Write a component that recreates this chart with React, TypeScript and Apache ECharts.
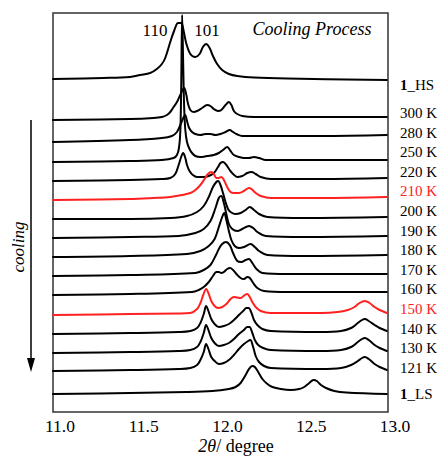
import React, { useEffect, useRef } from "react";
import * as echarts from "echarts";

// ---- data (2θ in degrees, relative intensity above each trace's own baseline) ----
const traceLabels = ["1_HS", "300 K", "280 K", "250 K", "220 K", "210 K", "200 K", "190 K", "180 K", "170 K", "160 K", "150 K", "140 K", "130 K", "121 K", "1_LS"];
const offsets = [333, 292, 270, 250, 231, 212, 193, 174, 155, 136, 117, 97, 78, 59, 41, 18];
const redTraces = ["210 K", "150 K"];
const xTickMin = 11.0;
const xTickMax = 13.0;
const xTickStep = 0.5;

const hs = [[11.0, 0], [11.3, 1], [11.46, 2], [11.52, 4], [11.58, 6], [11.62, 10], [11.65, 15], [11.67, 21], [11.7, 37], [11.725, 49], [11.747, 56], [11.765, 56], [11.78, 48], [11.795, 36], [11.82, 25], [11.85, 22], [11.875, 25], [11.895, 32], [11.914, 35], [11.935, 31], [11.955, 23], [11.98, 15], [12.01, 9], [12.05, 5], [12.1, 3], [12.2, 1.5], [12.4, 0.5], [12.993, -1]];
const k300 = [[11.0, 0], [11.46, 1], [11.6, 2], [11.65, 3], [11.68, 5], [11.7, 8], [11.72, 13], [11.74, 18], [11.76, 25], [11.783, 32], [11.795, 26], [11.805, 17], [11.82, 10], [11.84, 8], [11.86, 9], [11.89, 12], [11.92, 15], [11.94, 14], [11.96, 11], [11.985, 9], [12.005, 10], [12.03, 15], [12.05, 18], [12.065, 15], [12.08, 9], [12.1, 6], [12.13, 4], [12.2, 3], [12.5, 3], [12.993, 3]];
const k280 = [[11.0, 0], [11.46, 2], [11.65, 4], [11.71, 6], [11.74, 10], [11.76, 17], [11.775, 23], [11.789, 27], [11.8, 21], [11.813, 14], [11.83, 10], [11.85, 8], [11.88, 7], [11.91, 8], [11.94, 8], [11.97, 7], [12.0, 8], [12.03, 10], [12.055, 12], [12.075, 10], [12.095, 8], [12.13, 6], [12.2, 6], [12.6, 6], [12.993, 7]];
const k250 = [[11.0, 0], [11.46, 1], [11.65, 2], [11.72, 4], [11.74, 7], [11.752, 14], [11.76, 30], [11.765, 70], [11.771, 147], [11.777, 100], [11.783, 55], [11.79, 32], [11.8, 20], [11.815, 13], [11.83, 9], [11.85, 6], [11.88, 5], [11.92, 6], [11.96, 7], [11.99, 9], [12.015, 12], [12.04, 15], [12.06, 11], [12.08, 7], [12.11, 5], [12.14, 4], [12.17, 4], [12.2, 5], [12.23, 4], [12.27, 2], [12.5, 2], [12.993, 2]];
const k220 = [[11.0, 0], [11.46, 1], [11.65, 2], [11.7, 3], [11.73, 7], [11.75, 16], [11.765, 24], [11.777, 28], [11.79, 23], [11.8, 16], [11.815, 10], [11.835, 6], [11.86, 4], [11.9, 4], [11.93, 5], [11.96, 8], [11.985, 14], [12.0, 18], [12.016, 19], [12.035, 16], [12.055, 11], [12.075, 7], [12.1, 4], [12.13, 5], [12.16, 8], [12.185, 9], [12.21, 7], [12.24, 4], [12.3, 2], [12.6, 2], [12.993, 3]];
const k210 = [[11.0, 0], [11.46, 1], [11.6, 2], [11.7, 3], [11.77, 5], [11.82, 7], [11.85, 10], [11.88, 15], [11.905, 21], [11.925, 26], [11.945, 28], [11.96, 26], [11.975, 22], [11.99, 22], [12.005, 23], [12.02, 20], [12.04, 13], [12.06, 8], [12.08, 7], [12.11, 7], [12.14, 9], [12.17, 12], [12.185, 11], [12.21, 7], [12.24, 4], [12.3, 2], [12.6, 2], [12.993, 3]];
const k200 = [[11.0, 0], [11.46, 0], [11.7, 1], [11.8, 3], [11.86, 7], [11.9, 13], [11.93, 22], [11.955, 32], [11.975, 37], [11.986, 38], [12.0, 34], [12.015, 26], [12.03, 17], [12.045, 10], [12.06, 7], [12.09, 5], [12.12, 6], [12.15, 9], [12.175, 12], [12.2, 9], [12.23, 5], [12.28, 2], [12.5, 1], [12.993, 2]];
const k190 = [[11.0, 0], [11.46, 1], [11.75, 2], [11.85, 5], [11.9, 9], [11.94, 17], [11.97, 30], [11.99, 40], [12.004, 42], [12.02, 35], [12.035, 24], [12.05, 14], [12.07, 9], [12.1, 7], [12.13, 9], [12.17, 12], [12.195, 10], [12.22, 6], [12.27, 2], [12.5, 1], [12.993, 2]];
const k180 = [[11.0, 0], [11.46, 1], [11.8, 3], [11.88, 6], [11.93, 11], [11.965, 18], [11.99, 30], [12.01, 40], [12.022, 44], [12.035, 37], [12.05, 26], [12.065, 17], [12.085, 11], [12.11, 9], [12.14, 10], [12.18, 13], [12.205, 10], [12.23, 6], [12.28, 2], [12.5, 1], [12.993, 2]];
const k170 = [[11.0, 0], [11.46, 1], [11.85, 3], [11.9, 6], [11.94, 11], [11.97, 20], [11.99, 27], [12.01, 32], [12.033, 34], [12.055, 31], [12.075, 23], [12.1, 15], [12.125, 14], [12.15, 16], [12.17, 17], [12.19, 13], [12.215, 7], [12.25, 3], [12.4, 2], [12.993, 2]];
const k160 = [[11.0, 0], [11.46, 1], [11.83, 3], [11.87, 5], [11.9, 8], [11.93, 13], [11.955, 19], [11.975, 23], [11.99, 23], [12.005, 22], [12.02, 23], [12.04, 26], [12.057, 27], [12.075, 25], [12.095, 21], [12.12, 17], [12.14, 16], [12.16, 18], [12.175, 17], [12.195, 12], [12.22, 7], [12.26, 4], [12.4, 3], [12.993, 3]];
const k150 = [[11.0, 0], [11.46, 1], [11.75, 1.5], [11.82, 2], [11.86, 6], [11.88, 12], [11.897, 20], [11.914, 26], [11.93, 21], [11.945, 14], [11.965, 9], [11.985, 7], [12.01, 8], [12.035, 11], [12.06, 16], [12.08, 18], [12.1, 17.5], [12.12, 17], [12.145, 20], [12.16, 21], [12.175, 18], [12.19, 13], [12.21, 8], [12.24, 4], [12.3, 2], [12.6, 2], [12.7, 3], [12.76, 5], [12.8, 8], [12.83, 12], [12.862, 14], [12.89, 12], [12.92, 8], [12.95, 5], [12.993, 2]];
const k140 = [[11.0, 0], [11.46, 1], [11.75, 2], [11.82, 3], [11.86, 6], [11.88, 11], [11.9, 20], [11.914, 28], [11.928, 23], [11.945, 15], [11.965, 10], [11.99, 7], [12.02, 8], [12.05, 10], [12.08, 14], [12.11, 19], [12.135, 23], [12.155, 26], [12.168, 26], [12.185, 21], [12.2, 14], [12.22, 9], [12.25, 5], [12.3, 3], [12.6, 2], [12.72, 3], [12.78, 6], [12.82, 11], [12.845, 14], [12.862, 15], [12.885, 13], [12.92, 9], [12.95, 6], [12.993, 3]];
const k130 = [[11.0, 0], [11.46, 1], [11.75, 2], [11.82, 3], [11.86, 6], [11.88, 11], [11.9, 20], [11.914, 28], [11.928, 23], [11.945, 15], [11.965, 10], [11.99, 7], [12.02, 8], [12.05, 10], [12.08, 14], [12.11, 19], [12.14, 23], [12.16, 26], [12.173, 26], [12.19, 20], [12.205, 13], [12.225, 8], [12.255, 5], [12.3, 3], [12.6, 2], [12.72, 3], [12.78, 6], [12.82, 11], [12.845, 14], [12.862, 15], [12.885, 13], [12.92, 8], [12.95, 5], [12.993, 2]];
const k121 = [[11.0, 0], [11.46, 1], [11.75, 2], [11.82, 3], [11.86, 6], [11.88, 11], [11.9, 19], [11.914, 27], [11.928, 22], [11.945, 14], [11.965, 10], [11.99, 7], [12.02, 8], [12.05, 11], [12.08, 16], [12.11, 22], [12.14, 27], [12.165, 30], [12.178, 31], [12.195, 24], [12.21, 15], [12.23, 9], [12.26, 5], [12.3, 3], [12.6, 2], [12.72, 3], [12.78, 6], [12.82, 10], [12.845, 13], [12.862, 14], [12.885, 12], [12.92, 7], [12.95, 4], [12.993, 1]];
const ls = [[11.0, 0], [11.46, 1], [11.8, 2], [11.95, 3], [12.05, 5], [12.09, 7], [12.12, 11], [12.15, 19], [12.17, 25], [12.19, 28], [12.205, 27], [12.225, 22], [12.25, 15], [12.28, 10], [12.31, 7], [12.36, 5], [12.42, 4], [12.47, 5], [12.5, 7], [12.53, 11], [12.555, 14], [12.575, 13], [12.6, 9], [12.63, 6], [12.68, 3], [12.75, 1.5], [12.993, 0]];

const profiles = [hs, k300, k280, k250, k220, k210, k200, k190, k180, k170, k160, k150, k140, k130, k121, ls];

const FONT = "'Liberation Serif', 'Times New Roman', serif";

function buildOption() {
  const series = profiles.map((p, i) => {
    const red = redTraces.includes(traceLabels[i]);
    return {
      type: "line",
      name: traceLabels[i],
      data: p.map(([x, y]) => [x, y + offsets[i]]),
      showSymbol: false,
      smooth: 0.35,
      lineStyle: { width: 2, color: red ? "#ff2020" : "#000", join: "round", cap: "round" },
      z: 2,
    };
  });

  const labelTexts: any[] = [];
  const kLabels = traceLabels.slice(1, traceLabels.length - 1);
  kLabels.forEach((t, i) => {
    labelTexts.push({
      type: "text",
      x: 400,
      y: 113 + i * 19.6,
      style: {
        text: t,
        fill: redTraces.includes(t) ? "#ff2020" : "#000",
        fontFamily: FONT,
        fontSize: 15,
        textAlign: "left",
        textVerticalAlign: "middle",
      },
    });
  });
  const boldLabel = (t: string, y: number) => ({
    type: "text",
    x: 400,
    y,
    style: {
      text: "{b|" + t.split("_")[0] + "}{n|_" + t.split("_")[1] + "}",
      rich: {
        b: { fontWeight: "bold", fontFamily: FONT, fontSize: 15, fill: "#000" },
        n: { fontFamily: FONT, fontSize: 15, fill: "#000" },
      },
      textAlign: "left",
      textVerticalAlign: "middle",
    },
  });
  labelTexts.push(boldLabel(traceLabels[0], 85));
  labelTexts.push(boldLabel(traceLabels[traceLabels.length - 1], 394));

  return {
    animation: false,
    grid: { left: 53, right: 52, top: 13, bottom: 44, show: true, borderColor: "#333", borderWidth: 1.5, backgroundColor: "transparent" },
    xAxis: {
      type: "value",
      min: xTickMin,
      max: xTickMax,
      interval: xTickStep,
      axisLine: { show: false },
      axisTick: { show: false },
      splitLine: { show: false },
      axisLabel: {
        formatter: (v: number) => v.toFixed(1),
        fontFamily: FONT,
        fontSize: 17.5,
        color: "#000",
        margin: 5,
        padding: [0, 0, 0, 14],
      },
    },
    yAxis: { type: "value", min: 0, max: 399, show: false },
    series,
    graphic: [
      ...labelTexts,
      { type: "text", x: 155, y: 30, style: { text: "110", fontFamily: FONT, fontSize: 17, fill: "#000", textAlign: "center", textVerticalAlign: "middle" }, z: 10 },
      { type: "text", x: 207, y: 30, style: { text: "101", fontFamily: FONT, fontSize: 17, fill: "#000", textAlign: "center", textVerticalAlign: "middle" }, z: 10 },
      { type: "text", x: 312, y: 29, style: { text: "Cooling Process", fontFamily: FONT, fontStyle: "italic", fontSize: 18, fill: "#000", textAlign: "center", textVerticalAlign: "middle" }, z: 10 },
      { type: "text", x: 18, y: 247, rotation: Math.PI / 2, style: { text: "cooling", fontFamily: FONT, fontStyle: "italic", fontSize: 17, fill: "#000", textAlign: "center", textVerticalAlign: "middle" } },
      { type: "line", shape: { x1: 31, y1: 120, x2: 31, y2: 362 }, style: { stroke: "#000", lineWidth: 1.5 } },
      { type: "polygon", shape: { points: [[27, 358], [35, 358], [31, 372]] }, style: { fill: "#000" } },
      {
        type: "text",
        x: 236,
        y: 446,
        style: {
          text: "{i|2θ}{n|/ degree}",
          rich: {
            i: { fontFamily: FONT, fontStyle: "italic", fontSize: 18, fill: "#000" },
            n: { fontFamily: FONT, fontSize: 18, fill: "#000" },
          },
          textAlign: "center",
          textVerticalAlign: "middle",
        },
      },
    ],
  };
}

export default function App() {
  const ref = useRef<HTMLDivElement>(null);
  useEffect(() => {
    if (!ref.current) return;
    const chart = echarts.init(ref.current, null, { renderer: "svg" });
    chart.setOption(buildOption() as any);
    return () => chart.dispose();
  }, []);
  return <div ref={ref} style={{ position: "absolute", left: 0, top: 0, width: 440, height: 456, background: "#fff" }} />;
}
